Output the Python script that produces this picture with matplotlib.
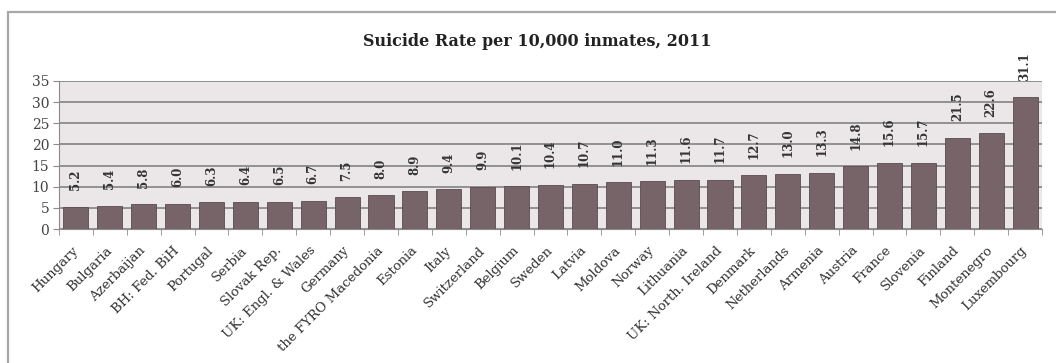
import matplotlib
matplotlib.use("Agg")
import matplotlib.pyplot as plt
from matplotlib.patches import Rectangle

countries = [
    "Hungary", "Bulgaria", "Azerbaijan", "BH: Fed. BiH", "Portugal", "Serbia",
    "Slovak Rep.", "UK: Engl. & Wales", "Germany", "the FYRO Macedonia",
    "Estonia", "Italy", "Switzerland", "Belgium", "Sweden", "Latvia", "Moldova",
    "Norway", "Lithuania", "UK: North. Ireland", "Denmark", "Netherlands",
    "Armenia", "Austria", "France", "Slovenia", "Finland", "Montenegro",
    "Luxembourg",
]
rates = [
    5.2, 5.4, 5.8, 6.0, 6.3, 6.4, 6.5, 6.7, 7.5, 8.0, 8.9, 9.4, 9.9, 10.1,
    10.4, 10.7, 11.0, 11.3, 11.6, 11.7, 12.7, 13.0, 13.3, 14.8, 15.6, 15.7,
    21.5, 22.6, 31.1,
]
y_ticks = [0, 5, 10, 15, 20, 25, 30, 35]

plt.rcParams["font.family"] = ["DejaVu Serif"]

fig = plt.figure(figsize=(10.56, 3.63), dpi=100)
fig.patch.set_facecolor("white")

# outer chart frame
frame = Rectangle((8 / 1056, -0.05), 1.2, 1 - 12 / 363 + 0.05,
                  transform=fig.transFigure, fill=False,
                  edgecolor="#a8a8a8", linewidth=1.6, clip_on=False)
fig.patches.append(frame)

ax = fig.add_axes([59 / 1056, 1 - 229 / 363, (1042 - 59) / 1056, (229 - 81) / 363])
ax.set_facecolor("#ebe7e9")

x = range(len(countries))
ax.bar(x, rates, width=0.74, color="#776469", edgecolor="#5a4b50",
       linewidth=0.6, zorder=3)

for xi, v in zip(x, rates):
    ax.annotate(f"{v:.1f}", (xi, v), xytext=(0, 12), textcoords="offset points",
                rotation=90, ha="center", va="bottom", fontsize=8.5,
                fontweight="bold", color="#333333", zorder=4)

ax.set_ylim(0, 35)
ax.set_xlim(-0.5, len(countries) - 0.5)
ax.set_yticks(y_ticks)
ax.set_yticklabels([str(t) for t in y_ticks], fontsize=10, color="#444444")
ax.yaxis.grid(True, color="#8a8a8a", linewidth=1.3, zorder=1)
ax.set_axisbelow(True)

ax.set_xticks(list(x))
ax.set_xticklabels(countries, rotation=45, ha="right", va="center",
                   rotation_mode="anchor", fontsize=9.5, color="#333333")
ax.tick_params(axis="x", length=0, pad=14)
ax.set_xticks([i + 0.5 for i in range(-1, len(countries))], minor=True)
ax.tick_params(axis="x", which="minor", length=4, color="#8a8a8a")
ax.tick_params(axis="y", length=4, color="#8a8a8a", pad=3)

for side in ("top", "right"):
    ax.spines[side].set_visible(False)
ax.spines["left"].set_color("#8a8a8a")
ax.spines["bottom"].set_color("#8a8a8a")

fig.text(0.509, 1 - 42 / 363, "Suicide Rate per 10,000 inmates, 2011",
         ha="center", va="center", fontsize=11.5, fontweight="bold",
         color="#222222")

fig.savefig("out.png", dpi=100)
